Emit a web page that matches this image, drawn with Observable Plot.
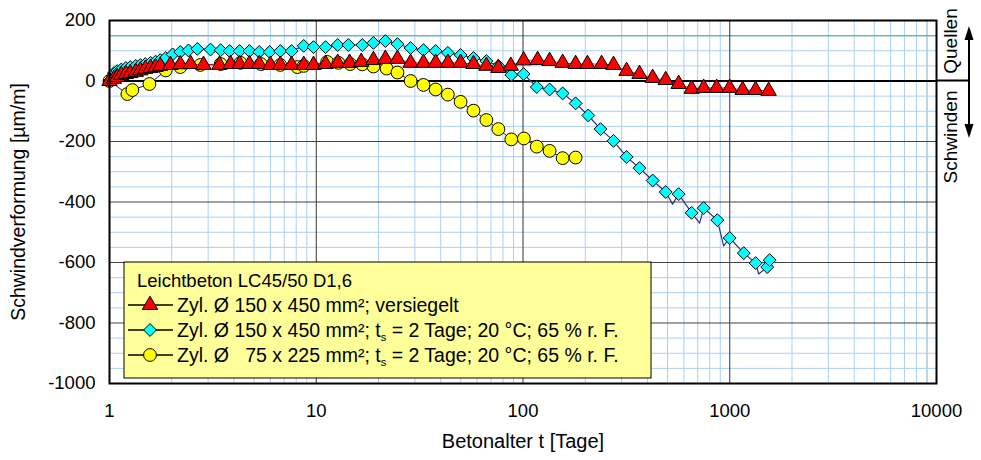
<!DOCTYPE html>
<html><head><meta charset="utf-8">
<script src="https://cdn.jsdelivr.net/npm/d3@7"></script>
<script src="https://cdn.jsdelivr.net/npm/@observablehq/plot@0.6"></script>
<style>
body{margin:0;background:#fff;}
#chart{width:981px;height:460px;}
</style>
</head><body><div id="chart"></div>
<script>
// ---- data ----
const xTicks = [1, 10, 100, 1000, 10000];
const yTicks = [-1000, -800, -600, -400, -200, 0, 200];

const redT = [1,1.05,1.09,1.14,1.2,1.26,1.34,1.41,1.49,1.58,1.67,1.76,1.97,2.2,2.47,2.85,3.4,3.85,4.26,4.75,5.3,6.0,6.7,7.6,8.7,9.7,11.1,12.7,14.5,16.5,18.9,21.6,24.7,28.6,33,37.8,43.3,49.9,57.6,66.5,76,87.3,100.7,117.7,134.5,155.5,179.7,205,240,274,317,366,424,490,566,654,748,864,999,1154,1334,1542];
const redV = [0,7,13,20,23,26,30,35,40,43,46,50,53,55,56,53,53,56,56,56,56,53,53,53,53,53,56,60,60,63,69,73,73,60,60,60,60,60,56,50,43,50,68,69,66,60,56,56,56,53,33,23,10,3,-10,-26,-23,-23,-23,-30,-30,-33];

const cyanT = [1,1.05,1.09,1.14,1.2,1.26,1.34,1.41,1.49,1.58,1.67,1.76,1.87,2.02,2.2,2.41,2.66,3.08,3.45,3.81,4.26,4.75,5.3,5.95,6.7,7.6,8.7,9.7,11.1,12.7,14.3,16.7,18.9,21.6,24.7,28.6,33,37.8,43.3,49.9,57.6,66.5,76,87.8,100.7,116.6,134.5,155.5,179.7,207,237,274,317,366,424,490,566,654,748,871,999,1169,1334,1518,1560];
const cyanV = [0,26,33,38,43,46,50,53,56,60,64,69,76,88,96,101,106,104,102,99,99,99,96,96,99,99,116,112,112,119,119,119,126,132,122,109,102,99,93,86,76,66,50,20,23,-20,-28,-41,-74,-114,-159,-198,-251,-288,-329,-367,-374,-436,-420,-460,-519,-569,-602,-615,-592];
// extra measured points on the cyan curve (spikes of the line between markers)
const cyanSpikeT = [529, 715, 934, 1380];
const cyanSpikeV = [-407, -470, -545, -638];

const yellowT = [1,1.22,1.29,1.56,1.87,2.2,2.75,3.45,4.3,5.4,6.7,8.1,8.7,11.3,12.8,14.6,16.7,18.9,21.9,24.7,28.6,33,37.8,43.3,49.9,57.6,66.5,76,87.8,101,116.6,134.5,155.5,179.7];
const yellowV = [0,-43,-30,-10,35,46,53,56,60,56,53,46,50,63,60,56,55,48,41,28,0,-13,-28,-45,-69,-98,-129,-159,-193,-190,-217,-231,-255,-253];

const legendTitle = "Leichtbeton LC45/50 D1,6";
const seriesNames = [
  ["Zyl. Ø 150 x 450 mm²; versiegelt"],
  ["Zyl. Ø 150 x 450 mm²; t", "s", " = 2 Tage; 20 °C; 65 % r. F."],
  ["Zyl. Ø   75 x 225 mm²; t", "s", " = 2 Tage; 20 °C; 65 % r. F."]
];

// ---- tables ----
const zip = (T, V) => T.map((t, i) => ({t, v: V[i]}));
const red = zip(redT, redV);
const cyan = zip(cyanT, cyanV);
const cyanLine = cyan.concat(zip(cyanSpikeT, cyanSpikeV)).sort((a, b) => a.t - b.t);
const yellow = zip(yellowT, yellowV);

// grid values
const xMinor = [];
for (const d of [1, 10, 100, 1000]) for (let k = 2; k <= 9; k++) if (!(d === 1000 && k === 9)) xMinor.push(d * k);
const yMinor = d3.range(-950, 200, 50).filter(v => v % 200 !== 0 && v !== 150);
const yMajor = [-800, -600, -400, -200];
const xMajor = [10, 100, 1000];

const FONT = "'Liberation Sans', Arial, sans-serif";
const gridBlue = "#a9d0f5";
const teal = "#72b4b8";
const rTri = 5.7, rDia = 5.8, rCir = 6.4;

const plot = Plot.plot({
  width: 981, height: 460,
  marginLeft: 109, marginRight: 45, marginTop: 20, marginBottom: 77,
  style: {fontFamily: FONT, fontSize: "18px", background: "white", color: "black", overflow: "visible"},
  x: {type: "log", domain: [1, 10000]},
  y: {domain: [-1000, 200]},
  marks: [
    Plot.ruleX(xMinor, {stroke: gridBlue, strokeWidth: 1}),
    Plot.ruleX([9000], {stroke: teal, strokeWidth: 1}),
    Plot.ruleY(yMinor, {stroke: gridBlue, strokeWidth: 1}),
    Plot.ruleY([150], {stroke: teal, strokeWidth: 1.5}),
    Plot.ruleX(xMajor, {stroke: "#333", strokeWidth: 1}),
    Plot.ruleY(yMajor, {stroke: "#444", strokeWidth: 1}),
    Plot.ruleY([0], {stroke: "black", strokeWidth: 2}),
    Plot.line(yellow, {x: "t", y: "v", stroke: "#222", strokeWidth: 1}),
    Plot.dot(yellow, {x: "t", y: "v", symbol: "circle", r: rCir, fill: "#ffff00", stroke: "black", strokeWidth: 1}),
    Plot.line(cyanLine, {x: "t", y: "v", stroke: "#2e2e8c", strokeWidth: 1.2}),
    Plot.dot(cyan, {x: "t", y: "v", symbol: "diamond2", r: rDia, fill: "#00ffff", stroke: "black", strokeWidth: 1}),
    Plot.line(red, {x: "t", y: "v", stroke: "#ff2020", strokeWidth: 1}),
    Plot.dot(red, {x: "t", y: "v", symbol: "triangle", r: rTri, fill: "#ff0000", stroke: "black", strokeWidth: 1}),
    Plot.frame({stroke: "black", strokeWidth: 2}),
    Plot.axisX({ticks: xTicks, tickFormat: d => String(d), tickSize: 0, tickPadding: 20, fontSize: 18.5,
      label: null}),
    Plot.axisY({ticks: yTicks, tickFormat: d => String(d), tickSize: 0, tickPadding: 14, fontSize: 18.5,
      label: null}),
    Plot.text([xTicks[0]], {frameAnchor: "bottom", text: () => "Betonalter t [Tage]", dy: 64, fontSize: 20, textAnchor: "middle"}),
    Plot.text([yTicks[0]], {frameAnchor: "left", text: () => "Schwindverformung [µm/m]", dx: -91, rotate: -90, fontSize: 19.5, textAnchor: "middle"})
  ]
});
document.getElementById("chart").appendChild(plot);

// ---- overlays: zero-line extension, Quellen/Schwinden, legend ----
const svg = d3.select(plot);
const xs = plot.scale("x"), ys = plot.scale("y");
const y0 = ys.apply(0);
const xR = xs.apply(10000);

const ov = svg.append("g").attr("font-family", FONT).attr("fill", "black");
ov.append("line").attr("x1", xR).attr("x2", 970).attr("y1", y0).attr("y2", y0)
  .attr("stroke", "black").attr("stroke-width", 2);
// double arrow
const ax = 969;
ov.append("line").attr("x1", ax).attr("x2", ax).attr("y1", 36).attr("y2", 128).attr("stroke", "black").attr("stroke-width", 2);
ov.append("path").attr("d", `M${ax},26 L${ax-4.5},40 L${ax+4.5},40 Z`).attr("fill", "black");
ov.append("path").attr("d", `M${ax},138 L${ax-4.5},124 L${ax+4.5},124 Z`).attr("fill", "black");
ov.append("text").attr("transform", `translate(957,41) rotate(-90)`).attr("text-anchor", "middle")
  .attr("font-size", 19).text("Quellen");
ov.append("text").attr("transform", `translate(957,137) rotate(-90)`).attr("text-anchor", "middle")
  .attr("font-size", 19).text("Schwinden");

// legend
const lg = svg.append("g").attr("font-family", FONT).attr("font-size", 19.5).attr("text-anchor", "start");
lg.append("rect").attr("x", 124).attr("y", 262).attr("width", 527).attr("height", 116)
  .attr("fill", "#ffff99").attr("stroke", "black").attr("stroke-width", 1);
lg.append("text").attr("x", 137).attr("y", 287).attr("font-size", 18.5).attr("text-anchor", "start").text(legendTitle);
const sym = [
  {type: d3.symbolTriangle, size: Math.PI * rTri * rTri, fill: "#ff0000"},
  {type: d3.symbolDiamond2, size: Math.PI * rDia * rDia, fill: "#00ffff"},
  {type: d3.symbolCircle, size: Math.PI * rCir * rCir, fill: "#ffff00"}
];
seriesNames.forEach((parts, i) => {
  const cy = 305 + i * 25;
  lg.append("line").attr("x1", 128).attr("x2", 173).attr("y1", cy).attr("y2", cy).attr("stroke", "black").attr("stroke-width", 1.5);
  lg.append("path").attr("transform", `translate(150,${cy})`)
    .attr("d", d3.symbol(sym[i].type, sym[i].size)())
    .attr("fill", sym[i].fill).attr("stroke", "black").attr("stroke-width", 1);
  const t = lg.append("text").attr("x", 177).attr("y", cy + 7).attr("text-anchor", "start").style("white-space", "pre");
  t.append("tspan").text(parts[0]);
  if (parts.length > 1) {
    t.append("tspan").attr("font-size", 11).attr("dy", 4).text(parts[1]);
    t.append("tspan").attr("dy", -4).text(parts[2]);
  }
});
</script>
</body></html>
